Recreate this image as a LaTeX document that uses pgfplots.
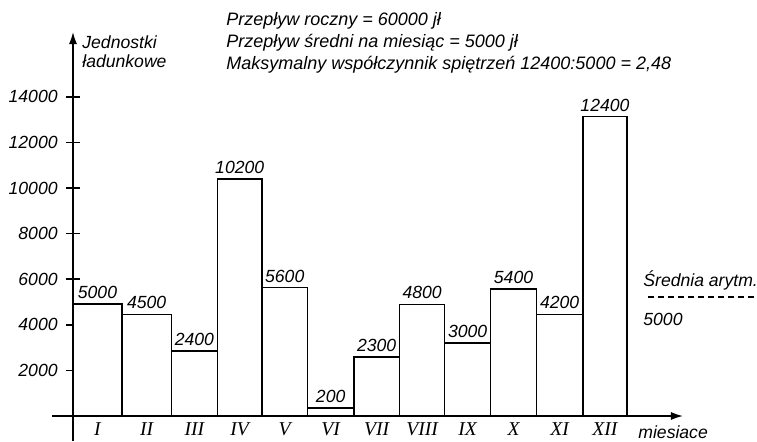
\documentclass[border=0pt]{standalone}
\usepackage{fontspec}
\setmainfont{Liberation Sans}
\newfontfamily\romfont{Liberation Serif}
\usepackage{pgfplots}
\pgfplotsset{compat=1.18}
\usepackage{pgfplotstable}
\usetikzlibrary{arrows.meta}

% bar edges (interval starts) and drawn heights
\pgfplotstableread{
x h
0 4910
1.06 4460
2.13 2860
3.13 10400
4.09 5630
5.08 360
6.08 2580
7.07 4900
8.05 3200
9.04 5580
10.04 4460
11.04 13130
12.0 13130
}\bars

% bar centres, heights and printed values
\pgfplotstableread{
x h label
0.53 4910 5000
1.595 4460 4500
2.63 2860 2400
3.61 10400 10200
4.585 5630 5600
5.58 360 200
6.575 2580 2300
7.56 4900 4800
8.545 3200 3000
9.54 5580 5400
10.54 4460 4200
11.52 13130 12400
}\labels

\newcommand{\tf}{\fontsize{8.8}{10.5}\selectfont\itshape}
\newcommand{\rf}[1]{{\romfont\fontsize{9.8}{11}\selectfont\itshape #1}}
\newcommand{\yf}[1]{{\fontsize{8.8}{10.5}\selectfont\itshape #1}}

\begin{document}
\begin{tikzpicture}
\begin{axis}[
  name=ax, at={(0,0)}, anchor=south west,
  scale only axis, width=315.5pt, height=204.5pt,
  xmin=-0.455, xmax=13.21, ymin=-1096, ymax=16842,
  axis lines=middle, clip=false,
  axis line style={line width=0.75pt},
  every inner x axis line/.append style={-{Latex[length=6pt,width=4pt]}},
  every inner y axis line/.append style={-{Latex[length=6pt,width=4pt]}},
  ytick={2000,4000,6000,8000,10000,12000,14000},
  yticklabels={\yf{2000},\yf{4000},\yf{6000},\yf{8000},\yf{10000},\yf{12000},\yf{14000}},
  scaled y ticks=false,
  tick align=center,
  major tick length=7pt,
  ytick style={line width=0.75pt, black},
  yticklabel style={anchor=east, inner sep=0pt, xshift=-4pt},
  xtick={0.53,1.595,2.63,3.61,4.585,5.58,6.575,7.56,8.545,9.54,10.54,11.52},
  xticklabels={\rf{I},\rf{II},\rf{III},\rf{IV},\rf{V},\rf{VI},\rf{VII},\rf{VIII},\rf{IX},\rf{X},\rf{XI},\rf{XII}},
  xtick style={draw=none},
  xticklabel style={anchor=base, inner sep=0pt, yshift=-6pt},
]
\addplot[ybar interval, fill=white, draw=black, line width=0.75pt] table[x=x, y=h] {\bars};
\addplot[draw=none, nodes near coords, point meta=explicit symbolic,
  every node near coord/.append style={font=\tf, text=black, anchor=south, inner sep=2.5pt}]
  table[x=x, y=h, meta=label] {\labels};
\addplot[black, line width=0.7pt, dash pattern=on 3pt off 2pt] coordinates {(12.45,5220) (14.78,5220)};
\end{axis}
\coordinate (O) at ([xshift=-26pt,yshift=220.5pt]ax.south west);
\node[anchor=base west, font=\fontsize{9}{11}\selectfont\itshape, inner sep=0pt] at ([xshift=113pt,yshift=-12.5pt]O) {Przepływ roczny = 60000 jł};
\node[anchor=base west, font=\fontsize{9}{11}\selectfont\itshape, inner sep=0pt] at ([xshift=113pt,yshift=-23.5pt]O) {Przepływ średni na miesiąc = 5000 jł};
\node[anchor=base west, font=\fontsize{9}{11}\selectfont\itshape, inner sep=0pt] at ([xshift=113pt,yshift=-34.5pt]O) {Maksymalny współczynnik spiętrzeń 12400:5000 = 2,48};
\node[anchor=base west, font=\tf, inner sep=0pt] at ([xshift=41pt,yshift=-24.2pt]O) {Jednostki};
\node[anchor=base west, font=\tf, inner sep=0pt] at ([xshift=41pt,yshift=-33.9pt]O) {ładunkowe};
\node[anchor=base west, font=\tf, inner sep=0pt] at ([xshift=321.5pt,yshift=-143.3pt]O) {Średnia arytm.};
\node[anchor=base west, font=\tf, inner sep=0pt] at ([xshift=321.5pt,yshift=-162.5pt]O) {5000};
\node[anchor=base west, font=\tf, inner sep=0pt] at ([xshift=319pt,yshift=-219pt]O) {miesiace};
\pgfresetboundingbox
\path (ax.south west) ++(-26pt,0) rectangle ++(378.5pt,220.5pt);
\end{tikzpicture}
\end{document}
